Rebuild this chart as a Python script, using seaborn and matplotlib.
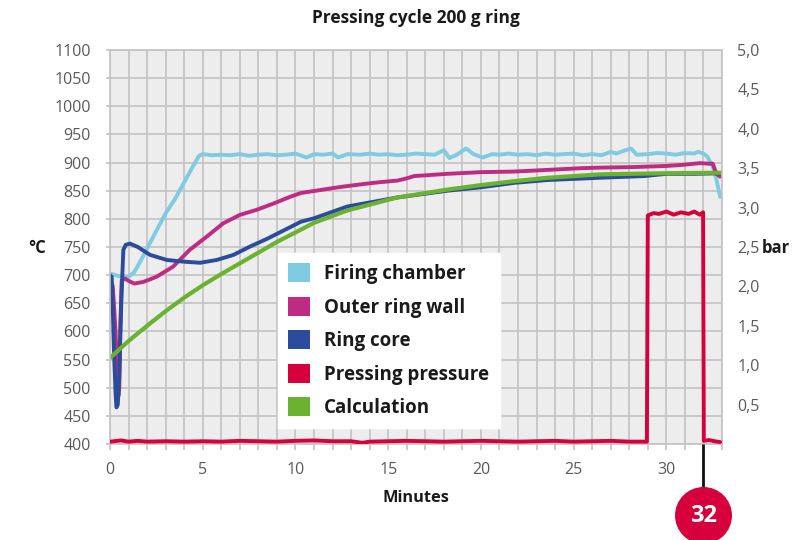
import matplotlib
matplotlib.use("Agg")
import matplotlib.pyplot as plt
import matplotlib.transforms as mtransforms
from matplotlib.patches import Patch
from matplotlib.ticker import MultipleLocator, FixedLocator
import seaborn as sns
import pandas as pd

# ---------------- data ----------------
chamber_t = [0, 0.5, 1.0, 1.3, 1.6, 2.2, 3.0, 3.5, 4.0, 4.5, 4.8, 5.0, 5.5, 6, 6.5, 7, 7.5, 8,
             8.5, 9, 9.5, 10, 10.6, 11, 11.5, 12, 12.3, 12.8, 13.5, 14, 14.5, 15, 15.5, 16,
             16.5, 17, 17.5, 18, 18.3, 18.7, 19.2, 19.6, 20.1, 20.6, 21, 21.5, 22, 22.5, 23,
             23.5, 24, 24.5, 25, 25.5, 26, 26.5, 27, 27.3, 27.7, 28.1, 28.4, 29, 29.5, 30,
             30.5, 31, 31.5, 31.7, 32.0, 32.2, 32.5, 32.7, 32.9]
chamber_v = [703, 698, 697, 705, 722, 760, 810, 835, 865, 895, 912, 915, 913, 914, 913, 915,
             912, 914, 915, 913, 914, 916, 909, 915, 914, 916, 909, 915, 914, 916, 914, 915,
             913, 914, 916, 915, 914, 922, 908, 914, 925, 915, 909, 915, 914, 916, 914, 915,
             913, 916, 914, 915, 916, 913, 915, 913, 919, 916, 921, 925, 914, 915, 917, 916,
             914, 917, 916, 919, 916, 911, 893, 870, 839]

wall_t = [0, 0.15, 0.3, 0.4, 0.45, 0.5, 0.55, 0.63, 0.8, 1.0, 1.3, 1.8, 2.5, 3.4, 4.3, 5.2,
          6.1, 7.0, 7.9, 8.8, 9.7, 10.3, 11.3, 12.5, 13.7, 14.5, 15.5, 16.0, 16.4, 17.3, 18.2,
          20.0, 21.8, 23.6, 25.4, 26.4, 28.2, 30.0, 30.9, 31.8, 32.3, 32.5, 32.7, 32.9]
wall_v = [695, 680, 600, 520, 485, 500, 600, 690, 694, 690, 685, 688, 697, 715, 745, 768,
          792, 807, 816, 827, 839, 846, 851, 857, 862, 865, 868, 872, 876, 878, 880,
          883, 884, 887, 890, 891, 892, 894, 896, 899, 898, 898, 880, 875]

core_t = [0, 0.09, 0.15, 0.22, 0.3, 0.35, 0.42, 0.5, 0.58, 0.63, 0.72, 0.85, 1.08, 1.5, 2.16,
          3.06, 3.96, 4.86, 5.76, 6.66, 7.56, 8.5, 9.4, 10.3, 11.0, 12.8, 15.5, 18.2, 20.0,
          21.8, 23.6, 26.4, 28.8, 30.0, 31.5, 33]
core_v = [700, 697, 640, 560, 490, 465, 470, 520, 620, 672, 745, 754, 756, 750, 736, 727, 724,
          722, 727, 736, 751, 765, 780, 795, 801, 822, 838, 850, 856, 864, 869, 873, 876, 880,
          880, 881]

calc_t = [0, 1, 2, 3, 4, 5, 6, 7, 8, 9, 10.3, 11.0, 12.8, 15.5, 18.2, 20.0, 21.8, 23.6, 26.4,
          28, 30, 33]
calc_v = [553, 583, 610, 636, 660, 682, 702, 721, 740, 759, 781, 793, 815, 838, 852, 860, 867,
          873, 879, 880, 881, 882]

press_t = [0, 0.2, 0.6, 1.0, 1.5, 2, 3, 4, 5, 6, 7, 8, 9, 10, 11, 12, 13, 13.6, 14, 15, 16,
           17, 18, 19, 20, 21, 22, 23, 24, 25, 26, 27, 28, 28.95, 29.0, 29.3, 29.6, 30.0,
           30.4, 30.8, 31.2, 31.5, 31.8, 31.98, 32.02, 32.3, 32.6, 32.9]
press_v = [0.03, 0.035, 0.045, 0.03, 0.04, 0.03, 0.035, 0.03, 0.035, 0.03, 0.04, 0.035, 0.03,
           0.04, 0.045, 0.035, 0.035, 0.015, 0.03, 0.035, 0.04, 0.035, 0.03, 0.035, 0.04, 0.035,
           0.03, 0.035, 0.04, 0.03, 0.035, 0.04, 0.03, 0.03, 2.90, 2.93, 2.92, 2.95, 2.91,
           2.94, 2.92, 2.95, 2.91, 2.94, 0.04, 0.05, 0.035, 0.025]

labels = ["Firing chamber", "Outer ring wall", "Ring core", "Pressing pressure", "Calculation"]
colors = ["#7ecbe3", "#bf2a82", "#2a4c9a", "#d6003c", "#6bb230"]
x_ticks = [0, 5, 10, 15, 20, 25, 30]
y_ticks = list(range(400, 1101, 50))
bar_ticks = [0.5, 1.0, 1.5, 2.0, 2.5, 3.0, 3.5, 4.0, 4.5, 5.0]
bar_labels = ["0,5", "1,0", "1,5", "2,0", "2,5", "3,0", "3,5", "4,0", "4,5", "5,0"]
marker_minute = 32

# ---------------- style ----------------
sns.set_theme(style="white")
plt.rcParams["font.family"] = ["Open Sans", "DejaVu Sans"]
grid_c = "#c2c2c2"
tick_c = "#5a5a5a"
LW = 2.8

fig = plt.figure(figsize=(7.98, 5.4), dpi=100)
ax = fig.add_axes([110 / 798, 1 - 444 / 540, 612 / 798, 394 / 540])
ax.set_facecolor("#ededed")

temp_series = [(chamber_t, chamber_v), (wall_t, wall_v), (core_t, core_v)]
for (tt, vv), col in zip(temp_series, colors[:3]):
    df = pd.DataFrame({"t": tt, "v": vv})
    sns.lineplot(data=df, x="t", y="v", ax=ax, color=col, lw=LW, estimator=None,
                 sort=False, legend=False)
df = pd.DataFrame({"t": calc_t, "v": calc_v})
sns.lineplot(data=df, x="t", y="v", ax=ax, color=colors[4], lw=LW + 0.2, estimator=None,
             sort=False, legend=False)

ax.set_xlim(0, 33)
ax.set_ylim(400, 1100)
ax.xaxis.set_major_locator(FixedLocator(x_ticks))
ax.xaxis.set_minor_locator(MultipleLocator(1))
ax.yaxis.set_major_locator(FixedLocator(y_ticks))
ax.grid(True, which="both", axis="x", color=grid_c, lw=1.2)
ax.grid(True, which="major", axis="y", color=grid_c, lw=1.2)
ax.set_axisbelow(True)
ax.tick_params(axis="x", which="both", bottom=True, length=4, width=1.2, color=grid_c,
               pad=9, labelsize=11.5, labelcolor=tick_c)
ax.tick_params(axis="y", which="major", left=True, length=3, width=1.2, color=grid_c,
               pad=11, labelsize=11.5, labelcolor=tick_c)
for s in ax.spines.values():
    s.set_color(grid_c)
    s.set_linewidth(1.2)
ax.set_xlabel("")
ax.set_ylabel("")

ax2 = ax.twinx()
df = pd.DataFrame({"t": press_t, "v": press_v})
sns.lineplot(data=df, x="t", y="v", ax=ax2, color=colors[3], lw=LW, estimator=None,
             sort=False, legend=False)
ax2.set_ylim(0, 5)
ax2.set_xlim(0, 33)
ax2.yaxis.set_major_locator(FixedLocator(bar_ticks))
ax2.set_yticklabels(bar_labels)
ax2.tick_params(axis="y", length=0, pad=11, labelsize=11.5, labelcolor=tick_c)
ax2.set_ylabel("")
for s in ax2.spines.values():
    s.set_visible(False)

# legend
handles = [Patch(facecolor=c, edgecolor="none") for c in colors]
leg = ax2.legend(handles, labels, loc="upper left", bbox_to_anchor=(0.2745, 0.4848),
                 borderaxespad=0, frameon=True, fancybox=False, framealpha=1,
                 facecolor="white", edgecolor="white",
                 prop={"family": ["Open Sans", "DejaVu Sans"], "weight": "bold", "size": 13.5},
                 handlelength=1.17, handleheight=1.17, handletextpad=0.75,
                 labelspacing=0.68, borderpad=0.55)
for t in leg.get_texts():
    t.set_color("#1a1a1a")

# titles / labels
fig.text(416 / 798, 1 - 18 / 540, "Pressing cycle 200 g ring", ha="center", va="center",
         fontsize=12.5, fontweight="bold", color="#1a1a1a")
fig.text(416 / 798, 1 - 498 / 540, "Minutes", ha="center", va="center",
         fontsize=11.8, fontweight="bold", color="#1a1a1a")
fig.text(37 / 798, 1 - 248 / 540, "°C", ha="center", va="center",
         fontsize=12, fontweight="bold", color="#1a1a1a")
fig.text(776 / 798, 1 - 248 / 540, "bar", ha="center", va="center",
         fontsize=12, fontweight="bold", color="#1a1a1a")

# end-of-pressing marker
trans = mtransforms.blended_transform_factory(ax2.transData, ax2.transAxes)
ax2.plot([marker_minute, marker_minute], [0, -0.12], color="#111111", lw=2,
         transform=trans, clip_on=False, solid_capstyle="butt")
ax2.plot([marker_minute], [-0.18], marker="o", ms=40, color=colors[3], mec=colors[3],
         transform=trans, clip_on=False, ls="none")
ax2.text(marker_minute, -0.183, str(marker_minute), transform=trans, ha="center",
         va="center", color="white", fontsize=17, fontweight="bold")

fig.savefig("out.png", dpi=100)
